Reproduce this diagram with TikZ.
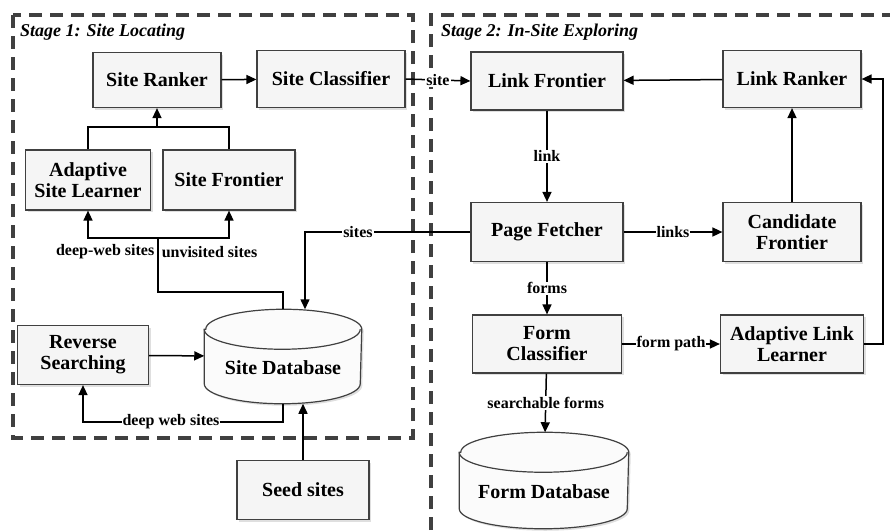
\documentclass[tikz,border=0pt]{standalone}
\usepackage{fontspec}
\setmainfont{Liberation Serif}
\usetikzlibrary{arrows.meta,shadows,backgrounds}

% drum outline round a named node: #1 node, #2 x radius
\newcommand{\dbdrum}[2]{%
  \draw[dbbody] ([yshift=-20pt]#1.north west) -- ([yshift=20pt]#1.south west)
    arc[start angle=180, end angle=360, x radius=#2, y radius=20pt]
    -- ([yshift=-20pt]#1.north east)
    arc[start angle=0, end angle=180, x radius=#2, y radius=20pt] -- cycle;
  \draw[dbline] ([yshift=-20pt]#1.north west)
    arc[start angle=180, end angle=360, x radius=#2, y radius=20pt];}

\begin{document}
\begin{tikzpicture}[x=1pt, y=-1pt, >={Triangle[length=10pt,width=9pt]}, line width=1.5pt]
    \tikzstyle{box}=[draw=black!75, fill=gray!8, line width=1.2pt, align=center,
      drop shadow={shadow xshift=2pt, shadow yshift=-2pt, opacity=.25},
      font=\fontsize{20}{21}\selectfont\bfseries, inner sep=2pt]
    \tikzstyle{db}=[inner sep=0pt]
    \tikzstyle{dbtext}=[font=\fontsize{20}{21}\selectfont\bfseries, yshift=-11pt]
    \tikzstyle{dbline}=[draw=black!75, line width=1.2pt]
    \tikzstyle{dbbody}=[dbline, fill=gray!3,
      drop shadow={shadow xshift=2pt, shadow yshift=-2pt, opacity=.25}]
    \tikzstyle{lbl}=[font=\fontsize{16}{17}\selectfont\bfseries, fill=white, inner sep=1pt]
    \tikzstyle{title}=[font=\fontsize{18}{19}\selectfont\bfseries\itshape, anchor=west]
    \tikzstyle{stage}=[draw=black!75, line width=3.2pt, dash pattern=on 13pt off 8pt]
    \useasboundingbox (0,0) rectangle (890,530);
    % stage frames
    \draw[stage] (13,15) rectangle (413,438);
    \draw[stage] (431,530) -- (431,15) -- (890,15);
    \node[title] (t1) at (16,32) {Stage 1: Site Locating};
    \node[title] (t2) at (437,32) {Stage 2: In-Site Exploring};
    % stage 1
    \node[box, minimum width=128pt, minimum height=55pt] (sranker) at (157,80) {Site Ranker};
    \node[box, minimum width=148pt, minimum height=57pt] (sclass) at (331,79) {Site Classifier};
    \node[box, minimum width=125pt, minimum height=60pt] (slearn) at (88,180) {Adaptive\\Site Learner};
    \node[box, minimum width=132pt, minimum height=60pt] (sfront) at (229,180) {Site Frontier};
    \node[box, minimum width=131pt, minimum height=59pt] (rsearch) at (83,355) {Reverse\\Searching};
    \node[db, minimum width=156pt, minimum height=93pt, label={[dbtext]center:Site Database}] (sdb) at (283,356.5) {};
    \node[box, minimum width=132pt, minimum height=59pt] (seed) at (303,490) {Seed sites};
    % stage 2
    \node[box, minimum width=152pt, minimum height=58pt] (lfront) at (547,81) {Link Frontier};
    \node[box, minimum width=138pt, minimum height=57pt] (lranker) at (792,79) {Link Ranker};
    \node[box, minimum width=152pt, minimum height=59pt] (fetch) at (547,232) {Page Fetcher};
    \node[box, minimum width=138pt, minimum height=59pt] (cand) at (792,232) {Candidate\\Frontier};
    \node[box, minimum width=149pt, minimum height=58pt] (fclass) at (547,344) {Form\\Classifier};
    \node[box, minimum width=143pt, minimum height=58pt] (llearn) at (792,344) {Adaptive Link\\Learner};
    \node[db, minimum width=168pt, minimum height=95pt, label={[dbtext]center:Form Database}] (fdb) at (544,480.5) {};
    \begin{scope}[on background layer]
      \dbdrum{sdb}{78pt}
      \dbdrum{fdb}{84pt}
    \end{scope}
    % connectors, stage 1
    \coordinate (up) at (157,127);
    \coordinate (down) at (158,238);
    \coordinate (back) at (158,292);
    \coordinate (rturn) at (83,422);
    \draw[->] (sranker) -- (sclass);
    \draw (slearn.north) |- (sfront.north |- up) -- (sfront.north);
    \draw[->] (up) -- (sranker.south);
    \draw[<->] (slearn.south) |- (sfront.south |- down) -- (sfront.south);
    \draw (down) -- node[lbl, pos=.26, left=2pt, fill=none]{deep-web sites}
      node[lbl, pos=.26, right=2pt, fill=none]{unvisited sites} (back) -| (sdb.north);
    \draw[->] (rsearch) -- (sdb);
    \draw[->] (sdb.south) |- node[lbl, pos=.78]{deep web sites} (rturn) -- (rsearch.south);
    \draw[->] (seed.north) -- (seed.north |- sdb.south);
    \draw[->] (fetch.west) -| node[lbl, pos=.34]{sites} ([xshift=22pt]sdb.north);
    \draw[->] (sclass.east) -- node[lbl]{site} (lfront.west);
    % connectors, stage 2
    \draw[->] (lranker) -- (lfront);
    \draw[->] (lfront) -- node[lbl]{link} (fetch);
    \draw[->] (fetch) -- node[lbl]{links} (cand);
    \draw[->] (cand) -- (lranker);
    \draw[->] (fetch) -- node[lbl]{forms} (fclass);
    \draw[->] (fclass) -- node[lbl]{form path} (llearn);
    \draw[->] (llearn.east) -- ++(19,0) |- (lranker.east);
    \draw[->] (fclass) -- node[lbl]{searchable forms} (fdb);
\end{tikzpicture}
\end{document}
